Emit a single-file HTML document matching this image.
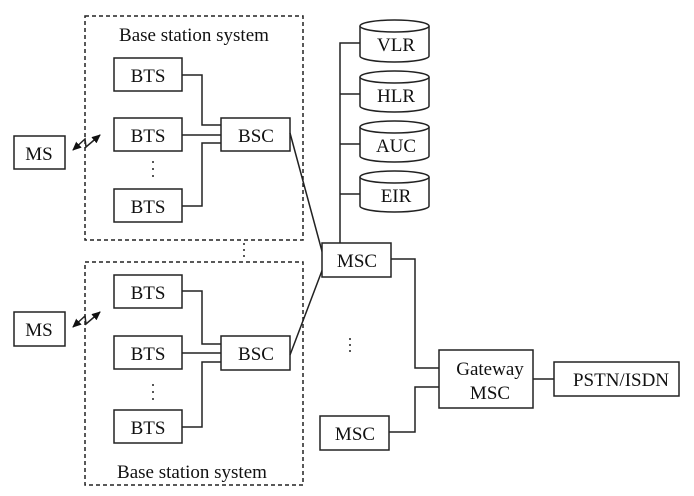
<!DOCTYPE html>
<html><head><meta charset="utf-8"><style>
html,body{margin:0;padding:0;background:#fff;}
svg{display:block;}
text{font-family:"Liberation Serif",serif;font-size:19px;fill:#111;text-anchor:middle;}
</style></head><body>
<svg width="694" height="496" viewBox="0 0 694 496" xmlns="http://www.w3.org/2000/svg">
<defs>
<marker id="ah" markerWidth="9" markerHeight="8" refX="8" refY="4" orient="auto-start-reverse" markerUnits="userSpaceOnUse"><path d="M0,0 L9,4 L0,8 z" fill="#111"/></marker>
</defs>
<g fill="none" stroke="#222" stroke-width="1.5">
<rect x="85" y="16" width="218" height="224" stroke-dasharray="4,3"/>
<rect x="85" y="262" width="218" height="223" stroke-dasharray="4,3"/>
<rect x="114" y="58" width="68" height="33" fill="#fff"/>
<rect x="114" y="118" width="68" height="33" fill="#fff"/>
<rect x="114" y="189" width="68" height="33" fill="#fff"/>
<rect x="221" y="118" width="69" height="33" fill="#fff"/>
<path d="M182 75 H202 V125 H221 M182 135 H221 M182 206 H202 V143 H221"/>
<rect x="114" y="275" width="68" height="33" fill="#fff"/>
<rect x="114" y="336" width="68" height="33" fill="#fff"/>
<rect x="114" y="410" width="68" height="33" fill="#fff"/>
<rect x="221" y="336" width="69" height="34" fill="#fff"/>
<path d="M182 291 H202 V344 H221 M182 353 H221 M182 427 H202 V362 H221"/>
<rect x="14" y="136" width="51" height="33" fill="#fff"/>
<rect x="14" y="312" width="51" height="34" fill="#fff"/>
<path d="M290 133 L323 255 M290 355 L323 268"/>
<rect x="322" y="243" width="69" height="34" fill="#fff"/>
<rect x="320" y="416" width="69" height="34" fill="#fff"/>
<rect x="439" y="350" width="94" height="58" fill="#fff"/>
<rect x="554" y="362" width="125" height="34" fill="#fff"/>
<path d="M391 259 H415 V368 H439 M389 432 H415 V387 H439 M533 379 H554"/>
<path d="M340 243 V43 H360 M340 94 H360 M340 144 H360 M340 194 H360"/>
<path d="M73 150 L85 139 L86 147 L100 135" marker-start="url(#ah)" marker-end="url(#ah)"/>
<path d="M73 327 L85 316 L86 324 L100 312" marker-start="url(#ah)" marker-end="url(#ah)"/>
</g>
<g fill="#fff" stroke="#222" stroke-width="1.5">
<path d="M360 26 V56 A34.5 6 0 0 0 429 56 V26"/><ellipse cx="394.5" cy="26" rx="34.5" ry="6"/>
<path d="M360 77 V106 A34.5 6 0 0 0 429 106 V77"/><ellipse cx="394.5" cy="77" rx="34.5" ry="6"/>
<path d="M360 127 V156 A34.5 6 0 0 0 429 156 V127"/><ellipse cx="394.5" cy="127" rx="34.5" ry="6"/>
<path d="M360 177 V206 A34.5 6 0 0 0 429 206 V177"/><ellipse cx="394.5" cy="177" rx="34.5" ry="6"/>
</g>
<g fill="#222">
<circle cx="153" cy="162" r="1"/><circle cx="153" cy="169" r="1"/><circle cx="153" cy="176" r="1"/>
<circle cx="153" cy="385" r="1"/><circle cx="153" cy="392" r="1"/><circle cx="153" cy="399" r="1"/>
<circle cx="244" cy="244" r="1"/><circle cx="244" cy="250" r="1"/><circle cx="244" cy="256" r="1"/>
<circle cx="350" cy="339" r="1"/><circle cx="350" cy="345" r="1"/><circle cx="350" cy="351" r="1"/>
</g>
<text x="194" y="41">Base station system</text>
<text x="192" y="478">Base station system</text>
<text x="148" y="82">BTS</text>
<text x="148" y="142">BTS</text>
<text x="148" y="213">BTS</text>
<text x="256" y="142">BSC</text>
<text x="148" y="299">BTS</text>
<text x="148" y="360">BTS</text>
<text x="148" y="434">BTS</text>
<text x="256" y="360">BSC</text>
<text x="39" y="160">MS</text>
<text x="39" y="336">MS</text>
<text x="357" y="267">MSC</text>
<text x="355" y="440">MSC</text>
<text x="490" y="375">Gateway</text>
<text x="490" y="399">MSC</text>
<text x="621" y="386">PSTN/ISDN</text>
<text x="396" y="51">VLR</text>
<text x="396" y="102">HLR</text>
<text x="396" y="152">AUC</text>
<text x="396" y="202">EIR</text>
</svg>
</body></html>
